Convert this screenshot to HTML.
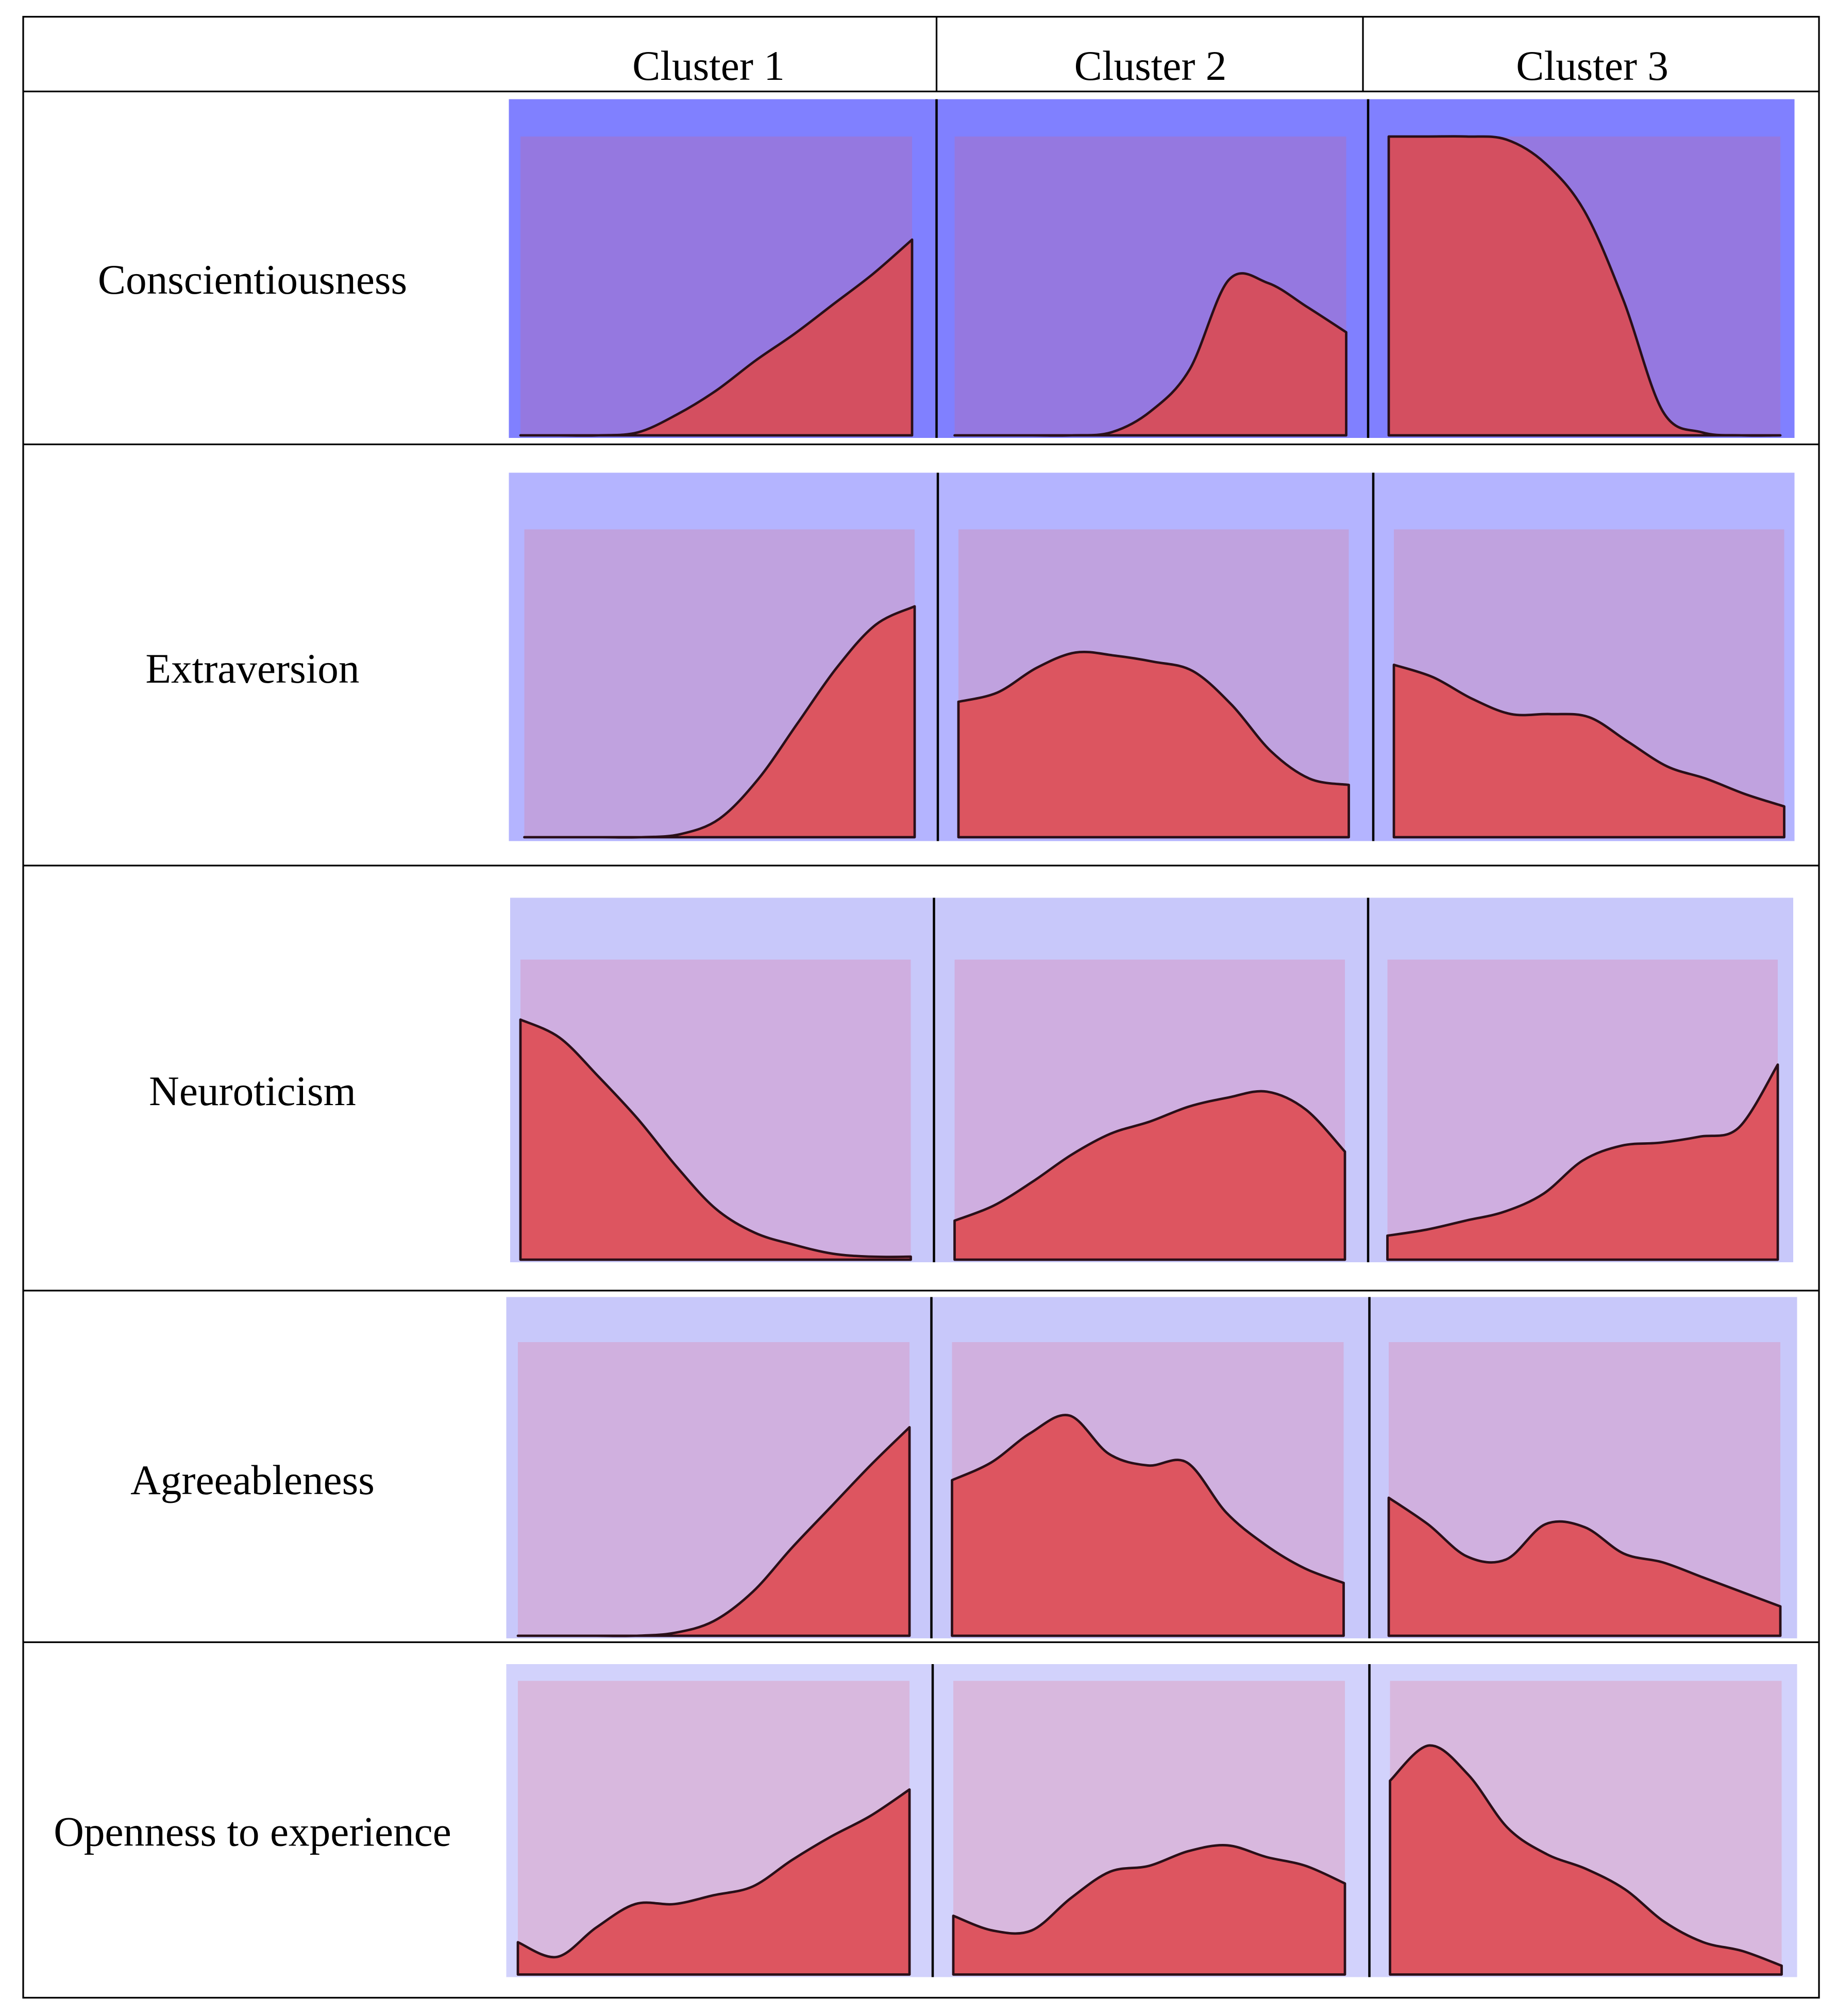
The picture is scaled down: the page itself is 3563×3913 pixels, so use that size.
<!DOCTYPE html>
<html><head><meta charset="utf-8"><style>
html,body{margin:0;padding:0;background:#fff;}
svg{display:block;}
text{font-family:"Liberation Serif",serif;fill:#000;}
</style></head><body>
<svg id="chart" width="3563" height="3913" viewBox="0 0 1425.2 1565.2" xmlns="http://www.w3.org/2000/svg">
<rect x="0" y="0" width="1425.2" height="1565.2" fill="#fff"/>
<g id="plots"></g>
<g id="grid" stroke="#000" stroke-width="1.3" fill="none">
<rect x="18" y="13" width="1394" height="1538"/>
<line x1="18" y1="71" x2="1412" y2="71"/>
<line x1="727" y1="13" x2="727" y2="71"/>
<line x1="1058" y1="13" x2="1058" y2="71"/>
<line x1="18" y1="345" x2="1412" y2="345"/>
<line x1="18" y1="672" x2="1412" y2="672"/>
<line x1="18" y1="1002" x2="1412" y2="1002"/>
<line x1="18" y1="1275" x2="1412" y2="1275"/>
</g>
<g font-size="32.5" text-anchor="middle">
<text x="550" y="62">Cluster 1</text>
<text x="893" y="62">Cluster 2</text>
<text x="1236" y="62">Cluster 3</text>
<text x="196" y="228">Conscientiousness</text>
<text x="196" y="530">Extraversion</text>
<text x="196" y="858">Neuroticism</text>
<text x="196" y="1160">Agreeableness</text>
<text x="196" y="1433">Openness to experience</text>
</g>
</svg>
<script>
const traits = ["conscientiousness","extraversion","neuroticism","agreeableness","openness"];
const clusters = ["cluster-1","cluster-2","cluster-3"];
const consc = [[0,0,0,0.01,0.07,0.15,0.25,0.34,0.44,0.54,0.655],[0,0,0,0,0.01,0.08,0.22,0.52,0.51,0.43,0.345],[1,1,1,0.99,0.91,0.75,0.45,0.08,0.01,0,0]];
const extra = [[0,0,0,0,0.01,0.06,0.19,0.37,0.55,0.69,0.75],[0.44,0.47,0.55,0.60,0.59,0.57,0.54,0.43,0.28,0.19,0.17],[0.56,0.52,0.45,0.40,0.40,0.39,0.31,0.23,0.19,0.14,0.10]];
const neuro = [[0.80,0.74,0.61,0.47,0.31,0.17,0.09,0.05,0.02,0.01,0.01],[0.13,0.18,0.26,0.35,0.42,0.46,0.51,0.54,0.56,0.50,0.36],[0.08,0.10,0.13,0.16,0.22,0.33,0.38,0.39,0.41,0.44,0.65]];
const agree = [[0,0,0,0,0.01,0.05,0.15,0.30,0.44,0.58,0.71],[0.53,0.59,0.69,0.75,0.62,0.58,0.59,0.42,0.31,0.23,0.18],[0.47,0.38,0.27,0.26,0.38,0.37,0.28,0.25,0.20,0.15,0.10]];
const openn = [[0.11,0.06,0.16,0.24,0.24,0.27,0.30,0.39,0.47,0.54,0.63],[0.20,0.15,0.15,0.26,0.35,0.37,0.42,0.44,0.40,0.37,0.31],[0.66,0.78,0.68,0.50,0.41,0.36,0.29,0.18,0.11,0.08,0.03]];
const allData = [consc, extra, neuro, agree, openn];

// layout (not data)
const rows = [
 {px:395,pw:998,py:77,ph:263,panel:"#8080ff",inner:"#9578e0",red:"#d44f60",iy:106,ib:338,ix:[404,741,1078],iw:304,div:[727,1062]},
 {px:395,pw:998,py:367,ph:286,panel:"#b4b4ff",inner:"#c0a2df",red:"#dc5560",iy:411,ib:650,ix:[407,744,1082],iw:303,div:[728,1066]},
 {px:396,pw:996,py:697,ph:283,panel:"#c8c8fa",inner:"#cfaee0",red:"#dd5560",iy:745,ib:978,ix:[404,741,1077],iw:303,div:[725,1062]},
 {px:393,pw:1002,py:1007,ph:265,panel:"#c8c8fa",inner:"#d0b0df",red:"#dd5560",iy:1042,ib:1270,ix:[402,739,1078],iw:304,div:[723,1063]},
 {px:393,pw:1002,py:1292,ph:243,panel:"#d2d2fc",inner:"#d8b8de",red:"#dd5560",iy:1305,ib:1533,ix:[402,740,1079],iw:304,div:[724,1063]}
];
const NS="http://www.w3.org/2000/svg";
const g=document.getElementById("plots");
function mk(t,a){const e=document.createElementNS(NS,t);for(const k in a)e.setAttribute(k,a[k]);return e;}
rows.forEach((r,ri)=>{
  const panel=mk("rect",{x:r.px,y:r.py,width:r.pw,height:r.ph,fill:r.panel});
  
  
  g.appendChild(panel);
  for(let c=0;c<3;c++){
    const vals=allData[ri][c];
    const x0=r.ix[c], h=r.ib-r.iy;
    const xs=v=>x0+v*r.iw;
    const ys=v=>r.ib-v*h;
    const inner=mk("rect",{x:x0,y:r.iy,width:r.iw,height:h,fill:r.inner});
    
    
    g.appendChild(inner);
    const n=vals.length;
    const P=vals.map((v,i)=>[xs(i/(n-1)),ys(v)]);
    let d="M"+P[0][0]+","+P[0][1];
    for(let i=0;i<n-1;i++){
      const p0=P[Math.max(i-1,0)],p1=P[i],p2=P[i+1],p3=P[Math.min(i+2,n-1)];
      const c1=[p1[0]+(p2[0]-p0[0])/6,p1[1]+(p2[1]-p0[1])/6];
      const c2=[p2[0]-(p3[0]-p1[0])/6,p2[1]-(p3[1]-p1[1])/6];
      d+=" C"+c1[0]+","+c1[1]+" "+c2[0]+","+c2[1]+" "+p2[0]+","+p2[1];
    }
    const area=mk("path",{d:"M"+P[0][0]+","+r.ib+" L"+d.slice(1)+" L"+P[n-1][0]+","+r.ib+" Z",fill:r.red,stroke:"#2a0f18","stroke-width":"1.9","stroke-linejoin":"round"});
    
    
    g.appendChild(area);
  }
  r.div.forEach((dx,k)=>{
    const l=mk("line",{x1:dx,y1:r.py,x2:dx,y2:r.py+r.ph,stroke:"#000","stroke-width":"1.8"});
    
    
    g.appendChild(l);
  });
});
</script>
</body></html>
